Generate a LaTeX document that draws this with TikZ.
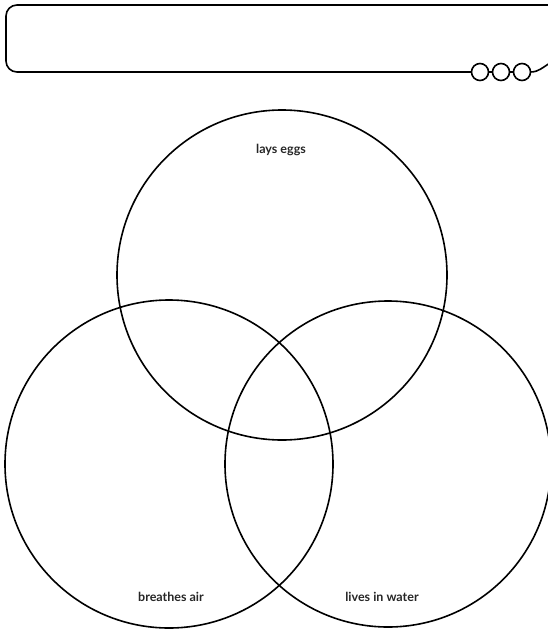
\documentclass[tikz,border=0pt]{standalone}
\usepackage{fontspec}
\setmainfont{Lato}
\begin{document}
\begin{tikzpicture}[x=1pt,y=-1pt,
  ln/.style={line width=1.6pt,black},
  lbl/.style={font=\bfseries\fontsize{12.5}{14}\selectfont,text=black!85}]
\path[use as bounding box] (0,0) rectangle (548,632);
\begin{scope}
\clip (0,0) rectangle (548,632);
% title box
\coordinate (c1) at (480,72);
\coordinate (c2) at (501,72);
\coordinate (c3) at (522,72);
\coordinate (bl) at (471.5,72);
\draw[ln,rounded corners=11pt] (bl) -- (6,72) -- (6,5) -- (541,5) to[out=0,in=-120] (556,20);
\draw[ln] (c1) circle (8.5) (c2) circle (8.5) (c3) circle (8.5);
\draw[ln] ([xshift=8.5pt]c1) -- ([xshift=-8.5pt]c2);
\draw[ln] ([xshift=8.5pt]c2) -- ([xshift=-8.5pt]c3);
\draw[ln] ([xshift=8.5pt]c3) to[out=0,in=-150] (550,63);
% venn circles
\node[ln,draw,circle,minimum size=330pt,inner sep=0pt] (top) at (282,275) {};
\node[ln,draw,circle,minimum size=328pt,inner sep=0pt] (left) at (169,464) {};
\node[ln,draw,circle,minimum size=326pt,inner sep=0pt] (right) at (388,464) {};
\end{scope}
\node[lbl] (t1) at (281,150) {lays eggs};
\node[lbl] (t2) at (171,597) {breathes air};
\node[lbl] (t3) at (382,597) {lives in water};
\end{tikzpicture}
\end{document}
